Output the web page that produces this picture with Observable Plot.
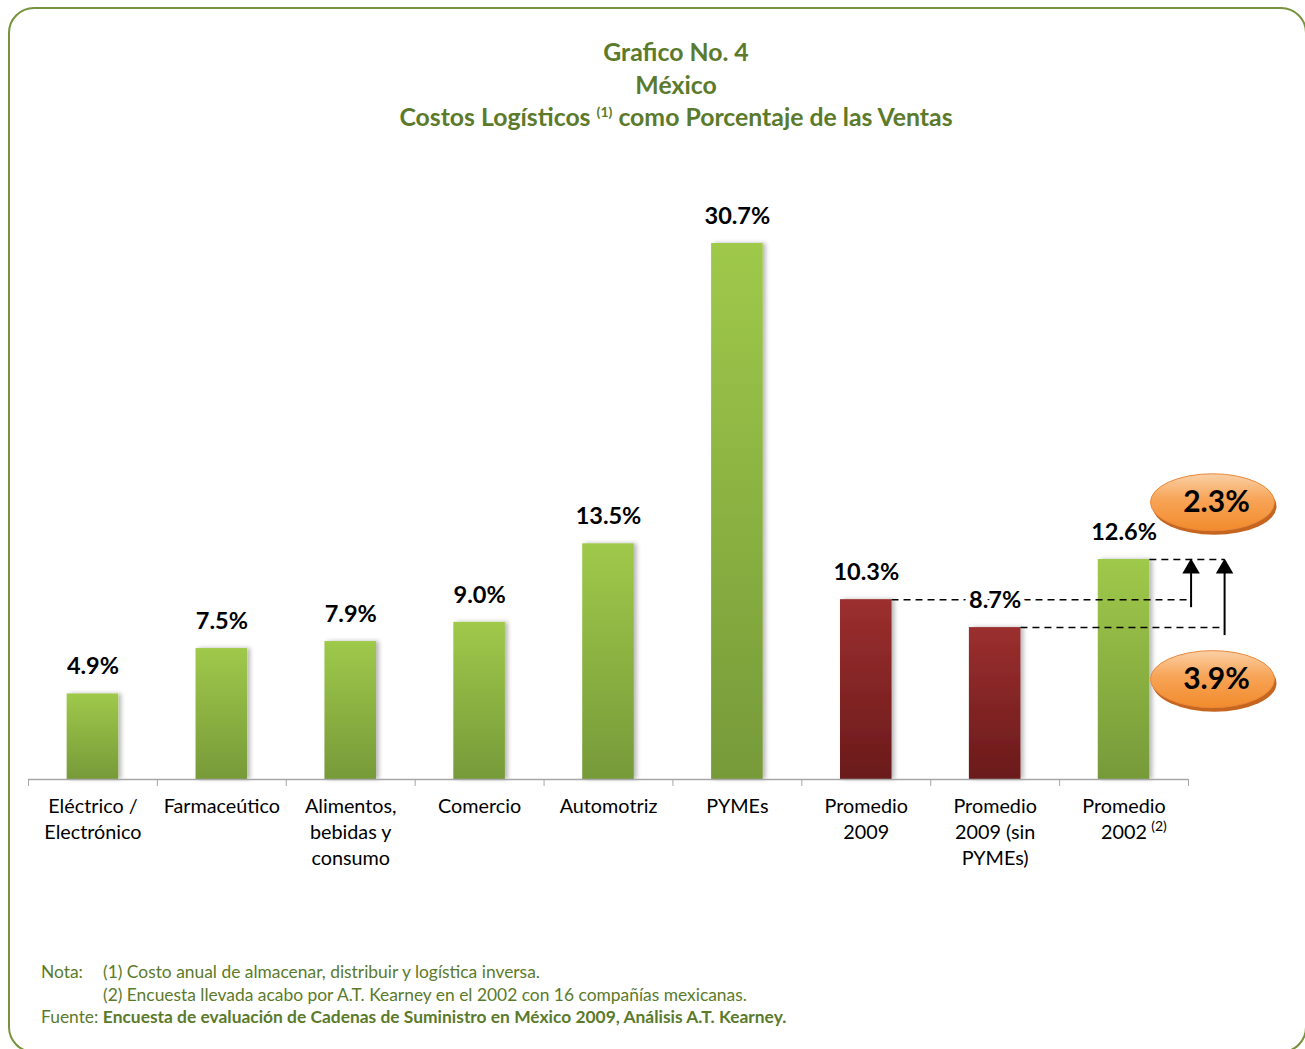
<!DOCTYPE html>
<html><head><meta charset="utf-8">
<script src="https://cdn.jsdelivr.net/npm/d3@7"></script>
<script src="https://cdn.jsdelivr.net/npm/@observablehq/plot@0.6"></script>
<style>
html,body{margin:0;padding:0;background:#fff;}
body{width:1305px;height:1049px;position:relative;overflow:hidden;font-family:Lato,"Open Sans",sans-serif;}
#frame{position:absolute;left:8px;top:7px;width:1299px;height:1046px;border:2.5px solid #77933c;border-radius:26px;box-sizing:border-box;}
#title{position:absolute;left:0;width:1352px;top:36px;text-align:center;color:#5b7a2b;font-weight:bold;font-size:24.8px;line-height:32.5px;}
#title sup{font-size:14px;vertical-align:9px;line-height:0;}
#chart{position:absolute;left:0;top:0;}
#notes{position:absolute;left:41px;top:961px;color:#5b7a2b;font-size:17.4px;line-height:22.5px;white-space:nowrap;}
#notes .row{position:relative;height:22.5px;}
#notes .ind{position:absolute;left:62px;top:0;}
</style>
</head><body>
<div id="frame"></div>
<div id="chart"></div>
<div id="title">Grafico No. 4<br>México<br>Costos Logísticos <sup>(1)</sup> como Porcentaje de las Ventas</div>
<div id="notes">
<div class="row">Nota:<span class="ind">(1) Costo anual de almacenar, distribuir y logística inversa.</span></div>
<div class="row"><span class="ind">(2) Encuesta llevada acabo por A.T. Kearney en el 2002 con 16 compañías mexicanas.</span></div>
<div class="row">Fuente: <b>Encuesta de evaluación de Cadenas de Suministro en México 2009, Análisis A.T. Kearney.</b></div>
</div>
<script>
const categories = ["Eléctrico /\nElectrónico", "Farmaceútico", "Alimentos,\nbebidas y\nconsumo", "Comercio", "Automotriz", "PYMEs", "Promedio\n2009", "Promedio\n2009 (sin\nPYMEs)", "Promedio\n2002"];
const values = [4.9, 7.5, 7.9, 9.0, 13.5, 30.7, 10.3, 8.7, 12.6];
const groups = ["sector", "sector", "sector", "sector", "sector", "sector", "promedio", "promedio", "sector"];
const footnoteMarks = ["", "", "", "", "", "", "", "", "(2)"];

const data = categories.map((c, i) => ({i, cat: c, v: values[i], g: groups[i], note: footnoteMarks[i], label: values[i].toFixed(1) + "%"}));
const edges = d3.range(categories.length + 1).map(k => k - 0.5);

const half = 0.2;               // half bar width in band units
const xRight1 = 8.52, xRight2 = 8.78;
const diffs = [
  {v: +(values[8] - values[6]).toFixed(1), y: 15.85},
  {v: +(values[8] - values[7]).toFixed(1), y: 5.72}
];

const plot = Plot.plot({
  width: 1305, height: 1049,
  marginLeft: 28, marginRight: 117, marginTop: 243, marginBottom: 270,
  x: {domain: [-0.5, 8.5], axis: null},
  y: {domain: [0, 30.7], axis: null},
  style: {fontFamily: "Lato, 'Open Sans', sans-serif", background: "transparent", overflow: "visible"},
  marks: [
    Plot.rect(data.filter(d => d.g === "sector"), {x1: d => d.i - half, x2: d => d.i + half, y1: 0, y2: "v", fill: "url(#gGreen)"}),
    Plot.rect(data.filter(d => d.g === "promedio"), {x1: d => d.i - half, x2: d => d.i + half, y1: 0, y2: "v", fill: "url(#gRed)"}),
    Plot.ruleY([0], {stroke: "#a6a6a6", strokeWidth: 1.5}),
    Plot.axisX({ticks: edges, tickSize: 7, tickFormat: () => "", label: null, stroke: "#a6a6a6"}),
    // dashed comparison lines
    Plot.ruleY([values[6]], {x1: 6 + half, x2: xRight1, strokeDasharray: "7,5", stroke: "#000", strokeWidth: 1.5}),
    Plot.ruleY([values[7]], {x1: 7 + half, x2: xRight2, strokeDasharray: "7,5", stroke: "#000", strokeWidth: 1.5}),
    Plot.ruleY([values[8]], {x1: 8 + half, x2: xRight2, strokeDasharray: "7,5", stroke: "#000", strokeWidth: 1.5}),
    // arrows
    Plot.ruleX([xRight1], {y1: values[6], y2: values[8], dy: 8, stroke: "#000", strokeWidth: 2}),
    Plot.ruleX([xRight2], {y1: values[7], y2: values[8], dy: 8, stroke: "#000", strokeWidth: 2}),
    Plot.dot([xRight1, xRight2], {x: d => d, y: values[8], symbol: "triangle", r: 6.5, dy: 9, fill: "#000", stroke: null}),
    // value labels
    Plot.text(data, {x: "i", y: "v", text: "label", dy: -27, fontSize: 23.5, fontWeight: "bold", fill: "#000", stroke: "#fff", strokeWidth: 10, paintOrder: "stroke"}),
    // category labels
    Plot.text(data, {x: "i", y: 0, text: "cat", dy: 15, lineAnchor: "top", fontSize: 19.8, lineHeight: 1.31, fill: "#000"}),
    Plot.text(data.filter(d => d.note), {x: "i", y: 0, text: "note", dx: 35, dy: 47, fontSize: 14, fill: "#000"})
  ]
});

const svg = d3.select(plot);
const defs = svg.insert("defs", ":first-child");
const gg = defs.append("linearGradient").attr("id", "gGreen").attr("x1", 0).attr("x2", 0).attr("y1", 0).attr("y2", 1);
gg.append("stop").attr("offset", 0).attr("stop-color", "#9fc94a");
gg.append("stop").attr("offset", 1).attr("stop-color", "#779a39");
const gr = defs.append("linearGradient").attr("id", "gRed").attr("x1", 0).attr("x2", 0).attr("y1", 0).attr("y2", 1);
gr.append("stop").attr("offset", 0).attr("stop-color", "#9c2f2f");
gr.append("stop").attr("offset", 1).attr("stop-color", "#6a1a1b");
const go = defs.append("linearGradient").attr("id", "gOrange").attr("x1", 0).attr("x2", 0).attr("y1", 0).attr("y2", 1);
go.append("stop").attr("offset", 0).attr("stop-color", "#fbd0a6");
go.append("stop").attr("offset", 0.45).attr("stop-color", "#f7a457");
go.append("stop").attr("offset", 1).attr("stop-color", "#f28b2c");
const sh = defs.append("filter").attr("id", "shadow").attr("x", "-20%").attr("y", "-5%").attr("width", "150%").attr("height", "110%");
sh.append("feDropShadow").attr("dx", 3).attr("dy", 0).attr("stdDeviation", 2).attr("flood-color", "#000").attr("flood-opacity", 0.28);

svg.selectAll("g[aria-label=rect]").attr("filter", "url(#shadow)");

// orange difference bubbles positioned through the plot's scales
const sx = plot.scale("x"), sy = plot.scale("y");
const bx = sx.apply(8.69);
const bub = svg.append("g");
diffs.forEach(d => {
  const cy = sy.apply(d.y);
  bub.append("ellipse").attr("cx", bx + 2).attr("cy", cy + 4).attr("rx", 62).attr("ry", 28.5).attr("fill", "#c5651f");
  bub.append("ellipse").attr("cx", bx).attr("cy", cy).attr("rx", 62).attr("ry", 28.5).attr("fill", "url(#gOrange)").attr("stroke", "#e9883a").attr("stroke-width", 1);
  bub.append("text").attr("x", bx + 4).attr("y", cy + 2).attr("text-anchor", "middle").attr("dominant-baseline", "middle")
    .attr("font-size", 30).attr("font-weight", "bold").attr("fill", "#000").text(d.v.toFixed(1) + "%");
});

document.getElementById("chart").appendChild(plot);
</script>
</body></html>
